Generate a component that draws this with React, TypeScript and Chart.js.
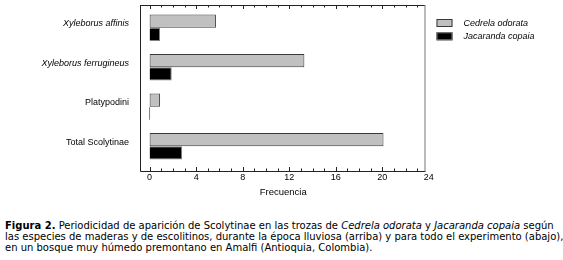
import React, { useEffect, useRef } from 'react';
import { Chart, registerables } from 'chart.js';

Chart.register(...registerables);

const categories = ['Xyleborus affinis', 'Xyleborus ferrugineus', 'Platypodini', 'Total Scolytinae'];
const italicCategory = [true, true, false, false];
const seriesNames = ['Cedrela odorata', 'Jacaranda copaia'];
const cedrelaValues = [5.7, 13.3, 0.9, 20.1];
const jacarandaValues = [0.9, 1.9, 0, 2.8];
const xTickValues = [0, 4, 8, 12, 16, 20, 24];
const xAxisTitle = 'Frecuencia';

const FONT = "'Liberation Sans', Arial, sans-serif";

const framePlugin = {
  id: 'frameTicks',
  afterDatasetsDraw(chart: any) {
    const { ctx, chartArea, scales } = chart;
    const x = scales.x;
    const top = chartArea.top - 3;
    const bottom = chartArea.bottom + 5;
    const left = chartArea.left;
    const right = chartArea.right;
    ctx.save();
    ctx.lineWidth = 1;
    ctx.strokeStyle = '#222';
    ctx.beginPath();
    ctx.moveTo(left - 0.5, top + 0.5);
    ctx.lineTo(right - 0.5, top + 0.5);
    ctx.moveTo(left - 0.5, top);
    ctx.lineTo(left - 0.5, bottom + 0.5);
    ctx.lineTo(right, bottom + 0.5);
    ctx.stroke();
    ctx.strokeStyle = '#777';
    ctx.beginPath();
    ctx.moveTo(right - 0.5, top);
    ctx.lineTo(right - 0.5, bottom + 0.5);
    ctx.stroke();
    ctx.strokeStyle = '#222';
    ctx.beginPath();
    for (let v = 0; v <= xTickValues[xTickValues.length - 1]; v++) {
      const px = Math.round(x.getPixelForValue(v)) + 0.5;
      if (px > right - 2) continue;
      const len = v % 4 === 0 ? 4 : 2.5;
      ctx.moveTo(px, top);
      ctx.lineTo(px, top + len);
      ctx.moveTo(px, bottom);
      ctx.lineTo(px, bottom - len);
    }
    ctx.stroke();
    ctx.restore();
  },
  afterDraw(chart: any) {
    const { ctx, chartArea } = chart;
    const bx = chartArea.right + 11;
    ctx.save();
    chart.data.datasets.forEach((ds: any, i: number) => {
      const by = 19 + i * 13.3;
      ctx.fillStyle = ds.backgroundColor;
      ctx.fillRect(bx, by, 16, 8);
      ctx.strokeStyle = ds.borderColor;
      ctx.lineWidth = 1;
      ctx.strokeRect(bx + 0.5, by + 0.5, 15, 7);
      ctx.fillStyle = '#000';
      ctx.font = `italic 9px ${FONT}`;
      ctx.textBaseline = 'middle';
      ctx.textAlign = 'left';
      ctx.fillText(ds.label, bx + 27, by + 4);
    });
    ctx.restore();
  },
};

function BarChart() {
  const ref = useRef<HTMLCanvasElement | null>(null);
  useEffect(() => {
    if (!ref.current) return;
    const chart = new Chart(ref.current, {
      type: 'bar',
      data: {
        labels: categories,
        datasets: [
          {
            label: seriesNames[0],
            data: cedrelaValues,
            backgroundColor: '#c0c0c0',
            borderColor: '#3a3a3a',
            borderWidth: 1,
            borderSkipped: false,
            categoryPercentage: 0.67,
            barPercentage: 1,
          },
          {
            label: seriesNames[1],
            data: jacarandaValues,
            backgroundColor: '#000000',
            borderColor: '#808080',
            borderWidth: 1,
            borderSkipped: 'start',
            minBarLength: 1,
            categoryPercentage: 0.67,
            barPercentage: 1,
          },
        ],
      },
      options: {
        indexAxis: 'y',
        responsive: false,
        animation: false,
        devicePixelRatio: 1,
        layout: { padding: { top: 8, right: 137.5, left: 0, bottom: 0 } },
        plugins: {
          legend: { display: false },
          tooltip: { enabled: false },
        },
        scales: {
          x: {
            type: 'linear',
            min: -0.74,
            max: 23.71,
            grid: { display: false, drawTicks: false },
            border: { display: false },
            afterBuildTicks: (scale: any) => {
              scale.ticks = xTickValues.map((v) => ({ value: v }));
            },
            afterFit: (scale: any) => {
              scale.height = 34;
              scale.paddingLeft = 0;
              scale.paddingRight = 0;
            },
            ticks: {
              autoSkip: false,
              maxRotation: 0,
              padding: 6,
              color: '#000',
              font: { family: FONT, size: 9 },
            },
            title: {
              display: true,
              text: xAxisTitle,
              color: '#000',
              font: { family: FONT, size: 9.5 },
              padding: { top: 0, bottom: 2 },
            },
          },
          y: {
            type: 'category',
            grid: { display: false, drawTicks: false },
            border: { display: false },
            afterFit: (scale: any) => {
              scale.width = 141;
              scale.paddingTop = 0;
              scale.paddingBottom = 0;
            },
            ticks: {
              padding: 12,
              labelOffset: -4,
              color: '#000',
              font: (c: any) => ({
                family: FONT,
                size: 9,
                style: italicCategory[c.index] ? 'italic' : 'normal',
              }),
            },
          },
        },
      },
      plugins: [framePlugin],
    } as any);
    return () => chart.destroy();
  }, []);
  return <canvas ref={ref} width={563} height={200} style={{ display: 'block', width: 563, height: 200 }} />;
}

export default function App() {
  return (
    <div style={{ position: 'absolute', left: 0, top: 0, width: 563, height: 260, background: '#fff' }}>
      <BarChart />
      <div
        style={{
          position: 'absolute',
          left: 5,
          top: 219.5,
          fontFamily: "'DejaVu Sans', Verdana, sans-serif",
          fontSize: 10,
          lineHeight: '11px',
          color: '#000',
          whiteSpace: 'nowrap',
        }}
      >
        <b>Figura 2.</b> Periodicidad de aparición de Scolytinae en las trozas de <i>Cedrela odorata</i> y{' '}
        <i>Jacaranda copaia</i> según
        <br />
        las especies de maderas y de escolitinos, durante la época lluviosa (arriba) y para todo el experimento (abajo),
        <br />
        en un bosque muy húmedo premontano en Amalfi (Antioquia, Colombia).
      </div>
    </div>
  );
}
